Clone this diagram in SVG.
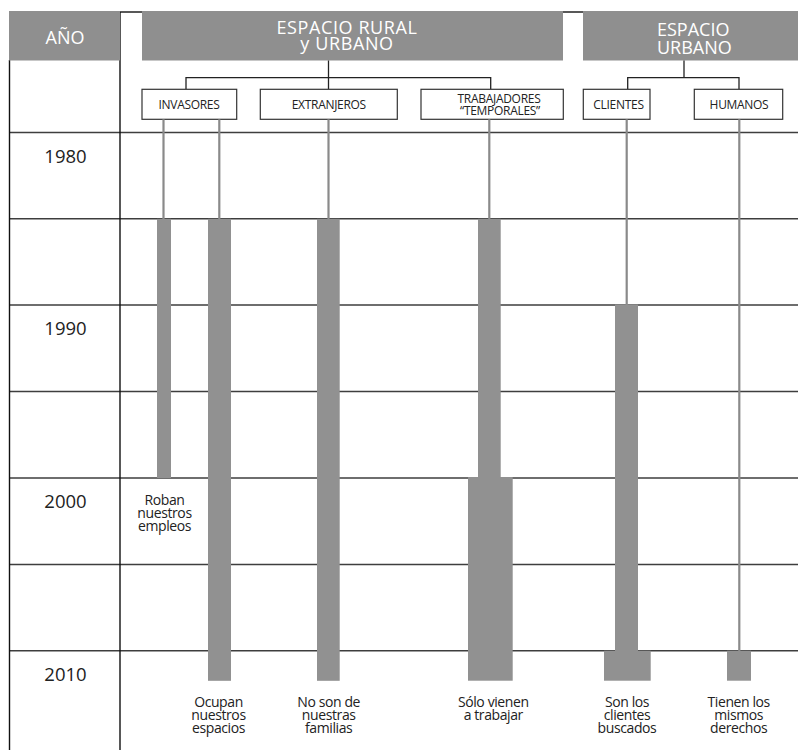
<svg xmlns="http://www.w3.org/2000/svg" width="798" height="750" viewBox="0 0 798 750">
<style>
.hdr{fill:#8f8f8f}
.hdrt{fill:#ffffff;font-family:"Open Sans","DejaVu Sans",sans-serif;font-size:18px}
.grid{stroke:#3e3e3e;stroke-width:1.4;fill:none}
.frame{stroke:#111;stroke-width:1.4;fill:none}
.box{fill:#ffffff;stroke:#333;stroke-width:1.2}
.boxt{fill:#222;font-family:"Open Sans","DejaVu Sans",sans-serif;font-size:12px;text-anchor:middle;letter-spacing:-0.3px}
.conn{stroke:#222;stroke-width:1.3;fill:none}
.stem{stroke:#8a8a8a;stroke-width:2.2;fill:none}
.bar{fill:#919191}
.year{fill:#222;font-family:"Open Sans","DejaVu Sans",sans-serif;font-size:18.5px;text-anchor:middle}
.lbl{fill:#222;font-family:"Open Sans","DejaVu Sans",sans-serif;font-size:14px;text-anchor:middle;letter-spacing:-0.4px}
</style>
<rect width="798" height="750" fill="#ffffff"/>

<g id="grid">
  <line class="grid" x1="9" y1="132.5" x2="798" y2="132.5"/>
  <line class="grid" x1="9" y1="218.8" x2="798" y2="218.8"/>
  <line class="grid" x1="9" y1="305" x2="798" y2="305"/>
  <line class="grid" x1="9" y1="391.5" x2="798" y2="391.5"/>
  <line class="grid" x1="9" y1="478" x2="798" y2="478"/>
  <line class="grid" x1="9" y1="564.5" x2="798" y2="564.5"/>
  <line class="grid" x1="9" y1="650.7" x2="798" y2="650.7"/>
  <line class="frame" x1="9.5" y1="60" x2="9.5" y2="750"/>
  <line class="frame" x1="120" y1="12" x2="120" y2="750"/>
  <line class="frame" x1="120" y1="12" x2="142" y2="12"/>
  <line class="frame" x1="563" y1="12" x2="583" y2="12"/>
</g>

<g id="header-ano">
  <rect class="hdr" x="9" y="11" width="111" height="49.5"/>
  <text class="hdrt" x="65" y="44" text-anchor="middle">AÑO</text>
</g>
<g id="header-rural">
  <rect class="hdr" x="142" y="11" width="421" height="49.5"/>
  <text class="hdrt" x="347" y="34" text-anchor="middle" letter-spacing="0.6">ESPACIO RURAL</text>
  <text class="hdrt" x="347" y="50" text-anchor="middle" letter-spacing="0.6">y URBANO</text>
</g>
<g id="header-urbano">
  <rect class="hdr" x="583" y="11" width="215" height="49.5"/>
  <text class="hdrt" x="657" y="35.5">ESPACIO</text>
  <text class="hdrt" x="657" y="54">URBANO</text>
</g>

<g id="connectors">
  <polyline class="conn" points="328.5,60.5 328.5,89"/>
  <polyline class="conn" points="186,89 186,77.7 490.7,77.7 490.7,89"/>
  <polyline class="conn" points="684,60.5 684,77.7"/>
  <polyline class="conn" points="627.7,89 627.7,77.7 739,77.7 739,89"/>
</g>

<g id="node-invasores">
  <rect class="box" x="142" y="89.3" width="94.7" height="30"/>
  <text class="boxt" x="189" y="108.7">INVASORES</text>
</g>
<g id="node-extranjeros">
  <rect class="box" x="260.3" y="89.3" width="137" height="30"/>
  <text class="boxt" x="328.8" y="108.7">EXTRANJEROS</text>
</g>
<g id="node-trabajadores">
  <rect class="box" x="421" y="89.3" width="142.3" height="30"/>
  <text class="boxt" x="499" y="103">TRABAJADORES</text>
  <text class="boxt" x="500" y="115">“TEMPORALES”</text>
</g>
<g id="node-clientes">
  <rect class="box" x="583.3" y="89.3" width="66.7" height="30"/>
  <text class="boxt" x="618.5" y="108.7">CLIENTES</text>
</g>
<g id="node-humanos">
  <rect class="box" x="694.3" y="89.3" width="88.4" height="30"/>
  <text class="boxt" x="739" y="108.7">HUMANOS</text>
</g>

<g id="timeline-invasores-1">
  <line class="stem" x1="163.5" y1="119.3" x2="163.5" y2="219"/>
  <rect class="bar" x="157" y="218.8" width="14" height="259.2"/>
  <text class="lbl" x="164.5" y="505">Roban</text>
  <text class="lbl" x="164.5" y="518">nuestros</text>
  <text class="lbl" x="164.5" y="531">empleos</text>
</g>
<g id="timeline-invasores-2">
  <line class="stem" x1="219.3" y1="119.3" x2="219.3" y2="219"/>
  <rect class="bar" x="208" y="218.8" width="23" height="462"/>
  <text class="lbl" x="218.5" y="707">Ocupan</text>
  <text class="lbl" x="218.5" y="719.8">nuestros</text>
  <text class="lbl" x="218.5" y="732.5">espacios</text>
</g>
<g id="timeline-extranjeros">
  <line class="stem" x1="328.5" y1="119.3" x2="328.5" y2="219"/>
  <rect class="bar" x="317" y="218.8" width="22.7" height="462"/>
  <text class="lbl" x="328.7" y="707">No son de</text>
  <text class="lbl" x="328.7" y="719.8">nuestras</text>
  <text class="lbl" x="328.7" y="732.5">familias</text>
</g>
<g id="timeline-trabajadores">
  <line class="stem" x1="489.3" y1="119.3" x2="489.3" y2="219"/>
  <rect class="bar" x="478" y="218.8" width="22.7" height="260"/>
  <rect class="bar" x="468" y="477" width="44.7" height="203.7"/>
  <text class="lbl" x="493.3" y="706.8">Sólo vienen</text>
  <text class="lbl" x="493.3" y="719.5">a trabajar</text>
</g>
<g id="timeline-clientes">
  <line class="stem" x1="626.7" y1="119.3" x2="626.7" y2="305"/>
  <rect class="bar" x="615" y="304.5" width="23" height="347"/>
  <rect class="bar" x="604" y="650.7" width="46.7" height="30"/>
  <text class="lbl" x="627" y="707">Son los</text>
  <text class="lbl" x="627" y="719.8">clientes</text>
  <text class="lbl" x="627" y="732.5">buscados</text>
</g>
<g id="timeline-humanos">
  <line class="stem" x1="739.3" y1="119.3" x2="739.3" y2="651"/>
  <rect class="bar" x="727" y="650.7" width="24" height="30"/>
  <text class="lbl" x="738.7" y="707">Tienen los</text>
  <text class="lbl" x="738.7" y="719.8">mismos</text>
  <text class="lbl" x="738.7" y="732.5">derechos</text>
</g>

<g id="years">
  <text class="year" x="65.5" y="162.5">1980</text>
  <text class="year" x="65.5" y="335.3">1990</text>
  <text class="year" x="65.5" y="508.3">2000</text>
  <text class="year" x="65.5" y="681">2010</text>
</g>
</svg>
